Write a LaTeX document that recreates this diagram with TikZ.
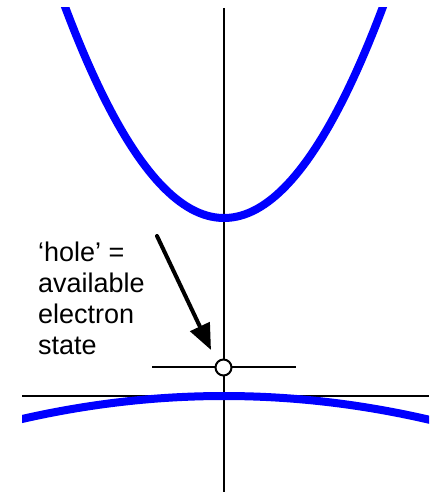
\documentclass[tikz,border=0pt]{standalone}
\usepackage{fontspec}
\setmainfont{Liberation Sans}
\usetikzlibrary{arrows.meta}
\begin{document}
\begin{tikzpicture}[x=1pt, y=-1pt, >={Triangle[length=26pt, width=21pt]},
  axis/.style={line width=2pt},
  band/.style={line width=8pt, blue},
  lbl/.style={font=\fontsize{27}{31}\selectfont, align=left, anchor=north west, inner sep=0pt}]
\useasboundingbox (0,0) rectangle (429,492);
% --- axes: k vertical, E horizontal ---
\coordinate (ktop) at (224,8);
\coordinate (kbot) at (224,492);
\coordinate (eleft) at (22,395.5);
\coordinate (eright) at (429,395.5);
\draw[axis] (ktop) -- (kbot);
\draw[axis] (eleft) -- (eright);
% --- conduction and valence bands ---
\begin{scope}
  \clip (22,8) rectangle (429,492);
  \draw[band] plot[domain=-172:172, samples=90] ({224+\x}, {218-210*(\x/158.5)*(\x/158.5)});
  \draw[band] plot[domain=-212:212, samples=60] ({224+\x}, {396+23*(\x/202)*(\x/202)});
\end{scope}
% --- hole level ---
\coordinate (lvlL) at (152,367);
\coordinate (lvlR) at (296,367);
\draw[axis] (lvlL) -- (lvlR);
\node[circle, draw, line width=2pt, fill=white, minimum size=16pt, inner sep=0pt] (hole) at (223.5,367.5) {};
% --- label and pointer ---
\node[lbl] (note) at (38,241.3) {`hole' =\\available\\electron\\state};
\coordinate (tail) at (157,236);
\coordinate (tip) at (211,350);
\draw[->, line width=4pt, line cap=round] (tail) -- (tip);
\end{tikzpicture}
\end{document}
